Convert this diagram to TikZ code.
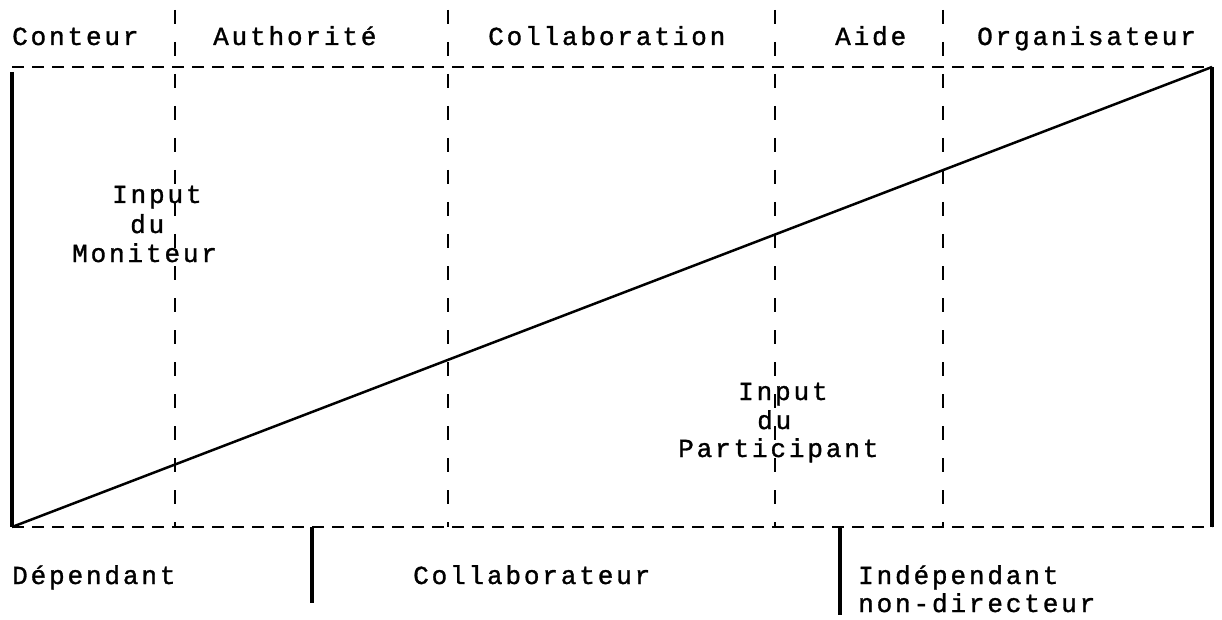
\documentclass[tikz,border=0pt]{standalone}
\usepackage{fontspec}
\setmonofont[LetterSpace=11,FakeBold=1.2]{Liberation Mono}
\begin{document}
\begin{tikzpicture}[x=1pt,y=-1pt,
  lbl/.style={inner sep=0pt, anchor=base west, font=\ttfamily\fontsize{26}{30}\selectfont},
  hdash/.style={line width=2pt, dash pattern=on 12pt off 8pt},
  vdash/.style={line width=2pt, dash pattern=on 14pt off 18pt},
  solidline/.style={line width=3.5pt},
  diag/.style={line width=2.5pt}]
\useasboundingbox (0,0) rectangle (1222,620);
% corners
\coordinate (tl) at (12,67);
\coordinate (tr) at (1212,67);
\coordinate (bl) at (12,527);
\coordinate (br) at (1212,527);
\coordinate (lt) at (12,72);
% vertical dashed separators
\coordinate (v1t) at (175,10);  \coordinate (v1b) at (175,527);
\coordinate (v2t) at (448,10);  \coordinate (v2b) at (448,527);
\coordinate (v3t) at (775,10);  \coordinate (v3b) at (775,527);
\coordinate (v4t) at (943,10);  \coordinate (v4b) at (943,527);
% bottom dividers
\coordinate (d1t) at (312,527); \coordinate (d1b) at (312,603);
\coordinate (d2t) at (840,527); \coordinate (d2b) at (840,615);

\draw[hdash] (tl) -- (tr);
\draw[hdash] (bl) -- (br);
\foreach \i in {1,2,3,4}{\draw[vdash] (v\i t) -- (v\i b);}
\draw[solidline] (lt) -- (bl);
\draw[solidline] (tr) -- (br);
\draw[diag] (bl) -- (tr);
\draw[solidline] (d1t) -- (d1b);
\draw[solidline] (d2t) -- (d2b);

% top labels
\node[lbl] (conteur) at (12,45) {Conteur};
\node[lbl] (auth) at (213,45) {Authorité};
\node[lbl] (collab) at (488,45) {Collaboration};
\node[lbl] (aide) at (835,45) {Aide};
\node[lbl] (orga) at (977,45) {Organisateur};
% inner labels
\node[lbl] (im1) at (112,203) {Input};
\node[lbl] (im2) at (130,233) {du};
\node[lbl] (im3) at (72,262) {Moniteur};
\node[lbl] (ip1) at (738,400) {Input};
\node[lbl] (ip2) at (757,429) {du};
\node[lbl] (ip3) at (678,457) {Participant};
% bottom labels
\node[lbl] (dep) at (12,584) {Dépendant};
\node[lbl] (colr) at (413,584) {Collaborateur};
\node[lbl] (indep) at (858,584) {Indépendant};
\node[lbl] (nondir) at (858,612) {non-directeur};
\end{tikzpicture}
\end{document}
